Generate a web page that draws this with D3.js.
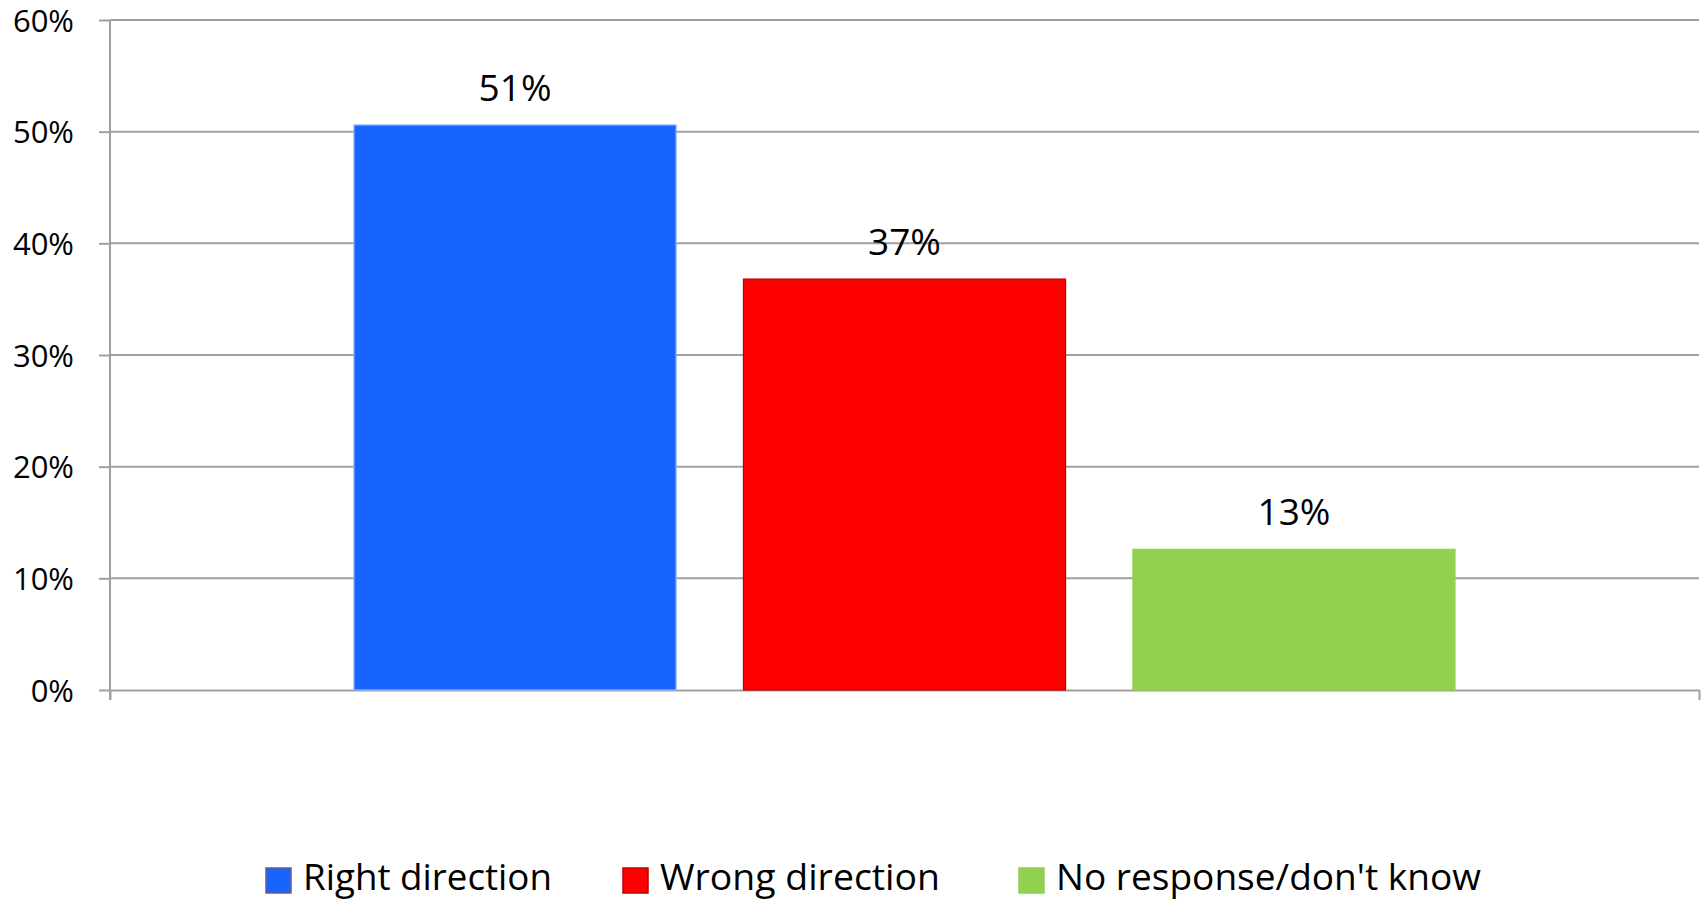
<!DOCTYPE html>
<html>
<head>
<meta charset="utf-8">
<script src="https://cdn.jsdelivr.net/npm/d3@7"></script>
<style>
  html, body { margin: 0; padding: 0; background: #ffffff; }
  svg { display: block; font-family: "Open Sans", "DejaVu Sans", sans-serif; }
</style>
</head>
<body>
<svg id="chart" width="1706" height="901"></svg>
<script>
// ---- data ----
const categories = [""];
const seriesNames = ["Right direction", "Wrong direction", "No response/don't know"];
const seriesValues = [0.506, 0.368, 0.126];
const seriesColors = ["#1764FF", "#FF0000", "#92D050"];
const seriesStrokes = ["#8FB2FF", "#C00000", "#92D050"];
const legendStrokes = ["#6A5A9A", "#C00000", "#92D050"];
const yTicks = [0, 0.1, 0.2, 0.3, 0.4, 0.5, 0.6];

// ---- layout ----
const W = 1706, H = 901;
const plot = { left: 110, right: 1699, top: 20, bottom: 690 };
const legendLayout = { x: [266, 623, 1019], textWidth: [249, 280, 425] };
const svg = d3.select("#chart");
svg.append("rect").attr("width", W).attr("height", H).attr("fill", "#fff");

const y = d3.scaleLinear().domain([0, 0.6]).range([plot.bottom, plot.top]);
const x0 = d3.scaleBand().domain(categories).range([plot.left, plot.right])
  .paddingInner(0).paddingOuter(0.2216);
const x1 = d3.scaleBand().domain(seriesNames).range([0, x0.bandwidth()])
  .paddingInner(0.173).paddingOuter(0);

const gridColor = "#A0A0A0";

// gridlines
svg.append("g").selectAll("line").data(yTicks.filter(d => d > 0)).join("line")
  .attr("x1", plot.left).attr("x2", plot.right)
  .attr("y1", d => y(d)).attr("y2", d => y(d))
  .attr("stroke", gridColor).attr("stroke-width", 2);

// y axis
const yAxis = svg.append("g").attr("transform", `translate(${plot.left},0)`)
  .call(d3.axisLeft(y).tickValues(yTicks).tickFormat(d3.format(".0%"))
    .tickSize(11).tickSizeOuter(0).tickPadding(25));
yAxis.select(".domain").remove();
yAxis.selectAll(".tick line").attr("stroke", gridColor).attr("stroke-width", 2);
yAxis.selectAll(".tick text").attr("font-size", 31).attr("fill", "#000")
  .attr("font-family", "'Open Sans', sans-serif").attr("dy", "0.36em");
yAxis.append("line").attr("x1", 0).attr("x2", 0)
  .attr("y1", plot.top).attr("y2", plot.bottom + 10)
  .attr("stroke", gridColor).attr("stroke-width", 2);

// x axis (single category, ticks at category boundaries)
const xEdge = d3.scaleLinear().domain([0, 1]).range([plot.left, plot.right]);
const xAxis = svg.append("g").attr("transform", `translate(0,${plot.bottom})`)
  .call(d3.axisBottom(xEdge).tickValues([0, 1]).tickFormat(() => "")
    .tickSize(10).tickSizeOuter(0));
xAxis.select(".domain").attr("stroke", gridColor).attr("stroke-width", 2);
xAxis.selectAll(".tick line").attr("stroke", gridColor).attr("stroke-width", 2);

// bars
const cat = categories[0];
const barData = seriesNames.map((name, i) => ({ name, value: seriesValues[i], i }));
svg.append("g").selectAll("rect").data(barData).join("rect")
  .attr("x", d => x0(cat) + x1(d.name))
  .attr("y", d => y(d.value))
  .attr("width", x1.bandwidth())
  .attr("height", d => y(0) - y(d.value))
  .attr("fill", d => seriesColors[d.i])
  .attr("stroke", d => seriesStrokes[d.i])
  .attr("stroke-width", 1.2);

// data labels
svg.append("g").selectAll("text").data(barData).join("text")
  .attr("x", d => x0(cat) + x1(d.name) + x1.bandwidth() / 2)
  .attr("y", d => y(d.value) - 24)
  .attr("text-anchor", "middle")
  .attr("font-size", 37)
  .attr("fill", "#000")
  .text(d => d3.format(".0%")(d.value));

// legend
const legend = svg.append("g");
const sw = 25, gapText = 12, legendBaseline = 890;
seriesNames.forEach((name, i) => {
  const lx = legendLayout.x[i];
  const g = legend.append("g");
  g.append("rect").attr("x", lx).attr("y", legendBaseline - 22).attr("width", sw).attr("height", sw)
    .attr("fill", seriesColors[i]).attr("stroke", legendStrokes[i]).attr("stroke-width", 1.5);
  g.append("text").attr("x", lx + sw + gapText).attr("y", legendBaseline)
    .attr("font-size", 37).attr("fill", "#000")
    .attr("textLength", legendLayout.textWidth[i]).attr("lengthAdjust", "spacingAndGlyphs")
    .text(name);
});
</script>
</body>
</html>
